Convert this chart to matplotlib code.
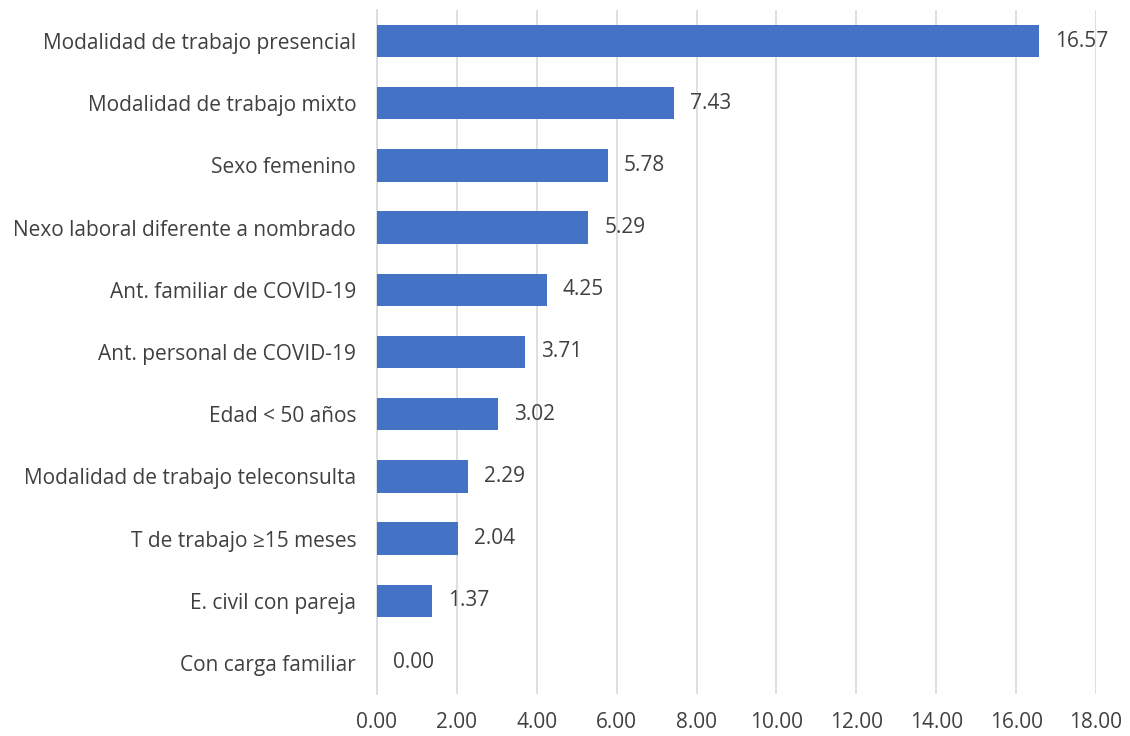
import matplotlib
matplotlib.use("Agg")
import matplotlib.pyplot as plt

categories = ["Modalidad de trabajo presencial", "Modalidad de trabajo mixto", "Sexo femenino",
              "Nexo laboral diferente a nombrado", "Ant. familiar de COVID-19", "Ant. personal de COVID-19",
              "Edad < 50 años", "Modalidad de trabajo teleconsulta", "T de trabajo ≥15 meses",
              "E. civil con pareja", "Con carga familiar"]
values = [16.57, 7.43, 5.78, 5.29, 4.25, 3.71, 3.02, 2.29, 2.04, 1.37, 0.00]
xticks = [0, 2, 4, 6, 8, 10, 12, 14, 16, 18]

plt.rcParams['font.family'] = ['Open Sans', 'DejaVu Sans']
fig = plt.figure(figsize=(11.3, 7.36), dpi=100)
ax = fig.add_axes([377/1130, 1-694/736, (1096-377)/1130, (694-10)/736])

pos = list(range(len(categories)))
ax.barh(pos, values, height=0.52, color="#4472C4", zorder=3)
for p, v in zip(pos, values):
    ax.text(v + 0.4, p, f"{v:.2f}", va="center", ha="left", fontsize=15, color="#404040")

ax.set_ylim(len(categories) - 0.5, -0.5)
ax.set_xlim(0, 18)
ax.set_xticks(xticks)
ax.set_xticklabels([f"{t:.2f}" for t in xticks])
ax.set_yticks(pos)
ax.set_yticklabels(categories)
ax.tick_params(axis='both', length=0, labelsize=15, labelcolor="#404040")
ax.tick_params(axis='y', pad=15)
ax.tick_params(axis='x', pad=13)
ax.grid(axis='x', color="#D9D9D9", linewidth=1.2, zorder=0)
for s in ["top", "right", "bottom"]:
    ax.spines[s].set_visible(False)
ax.spines["left"].set_color("#D9D9D9")
ax.spines["left"].set_linewidth(1.2)

fig.savefig("out.png", dpi=100)
